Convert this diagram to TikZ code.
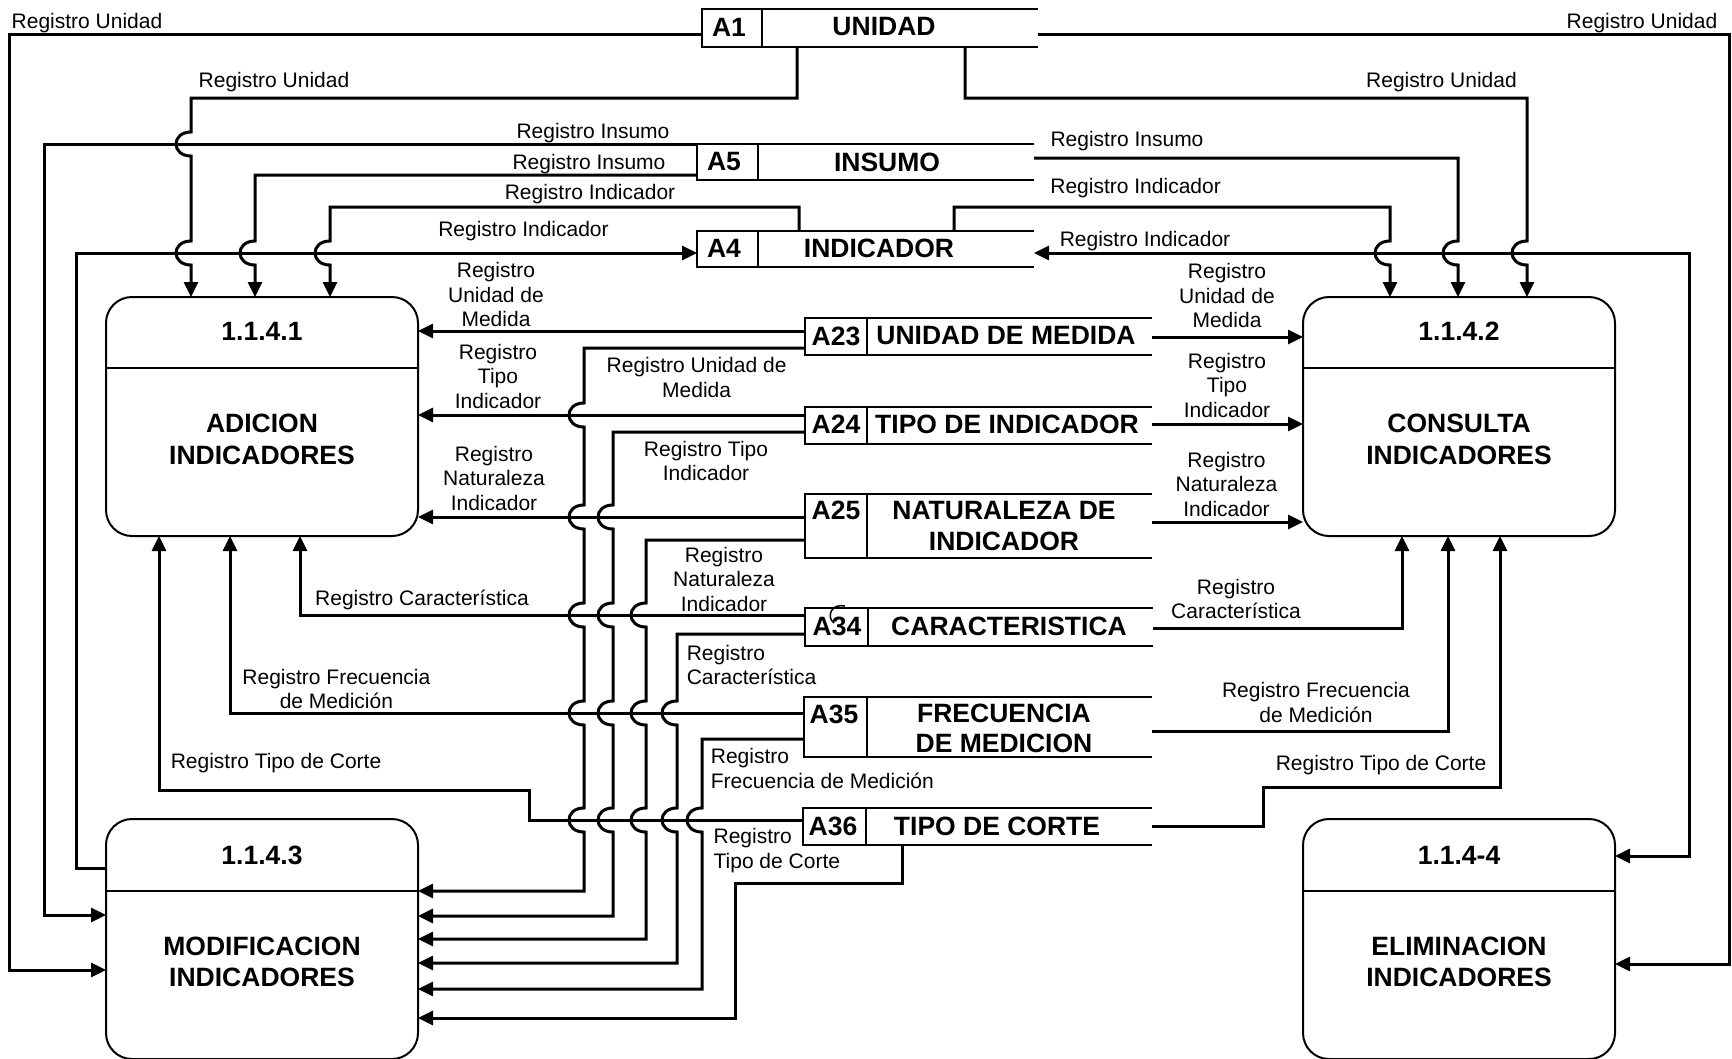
\documentclass[tikz,border=0pt]{standalone}
\usepackage{fontspec}
\setmainfont{Liberation Sans}
\usetikzlibrary{arrows.meta}
\newcommand\hopv[2]{-- (#1,#2-12) .. controls (#1-20,#2-12) and (#1-20,#2+12) .. (#1,#2+12)}
\newcommand\dstore[6]{%
  \node[storebox, minimum width={#4-#2}, minimum height={#5-#3}] (#1) at ({(#2+#4)/2},{(#3+#5)/2}) {};
  \draw[sline] (#1.north east) -- (#1.north west) -- (#1.south west) -- (#1.south east);
  \draw[sline] (#1.north -| #6,0) -- (#1.south -| #6,0);
}
\begin{document}
\begin{tikzpicture}[x=1pt,y=-1pt,
  flow/.style={line width=3pt, -{Triangle[length=15pt,width=14pt]}},
  flowboth/.style={line width=3pt, {Triangle[length=15pt,width=14pt]}-{Triangle[length=15pt,width=14pt]}},
  proc/.style={draw, line width=2pt, rounded corners=26pt, inner sep=0pt, outer sep=0pt, minimum width=312pt},
  storebox/.style={inner sep=0pt, outer sep=0pt},
  sline/.style={line width=2.5pt},
  lbl/.style={font=\fontsize{21}{24.5}\selectfont, align=center, inner sep=0pt},
  ttl/.style={font=\fontsize{26.5}{31}\selectfont\bfseries, align=center, inner sep=0pt},
]
\useasboundingbox (0,0) rectangle (1732,1058);

% ---------- data stores ----------
\dstore{A1}{702}{9}{1038}{47}{762}
\dstore{A5}{697}{144}{1034}{180}{758}
\dstore{A4}{697}{231}{1034}{267}{758}
\dstore{A23}{805}{318}{1152}{355}{867}
\dstore{A24}{805}{407}{1152}{444}{867}
\dstore{A25}{805}{494}{1152}{558}{867}
\dstore{A34}{805}{608}{1153}{646}{868}
\dstore{A35}{804}{697}{1152}{757}{867}
\dstore{A36}{803}{808}{1152}{845}{866}

\node[ttl] (A1id) at (729,27) {A1};
\node[ttl] (A1nm) at (884,27) {UNIDAD};
\node[ttl] (A5id) at (724,162) {A5};
\node[ttl] (A5nm) at (887,162) {INSUMO};
\node[ttl] (A4id) at (724,248) {A4};
\node[ttl] (A4nm) at (879,248) {INDICADOR};
\node[ttl] (A23id) at (836,336) {A23};
\node[ttl] (A23nm) at (1006,336) {UNIDAD DE MEDIDA};
\node[ttl] (A24id) at (836,424) {A24};
\node[ttl] (A24nm) at (1007,424) {TIPO DE INDICADOR};
\node[ttl] (A25id) at (836,510) {A25};
\node[ttl] (A25nm) at (1004,526) {NATURALEZA DE\\INDICADOR};
\node[ttl] (A34id) at (837,626) {A34};
\node[ttl] (A34nm) at (1009,626) {CARACTERISTICA};
\node[ttl] (A35id) at (834,714) {A35};
\node[ttl, font=\fontsize{26.5}{29.5}\selectfont\bfseries] (A35nm) at (1004,728.5) {FRECUENCIA\\DE MEDICION};
\node[ttl] (A36id) at (833,826) {A36};
\node[ttl] (A36nm) at (997,826) {TIPO DE CORTE};
% stray hook mark on A34
\draw[line width=1.5pt] (845,606) .. controls (831,603) and (826,617) .. (834,623);

% ---------- processes ----------
\node[proc, minimum height=239pt] (p1) at (262,416.5) {};
\node[proc, minimum height=239pt] (p2) at (1459,416.5) {};
\node[proc, minimum height=240pt] (p3) at (262,939) {};
\node[proc, minimum height=240pt] (p4) at (1459,939) {};
\draw[line width=2pt] (p1.west |- 0,368) -- (p1.east |- 0,368);
\draw[line width=2pt] (p2.west |- 0,368) -- (p2.east |- 0,368);
\draw[line width=2pt] (p3.west |- 0,891) -- (p3.east |- 0,891);
\draw[line width=2pt] (p4.west |- 0,891) -- (p4.east |- 0,891);
\node[ttl] (p1n) at (262,331) {1.1.4.1};
\node[ttl, font=\fontsize{26.5}{32}\selectfont\bfseries] (p1t) at (262,439) {ADICION\\INDICADORES};
\node[ttl] (p2n) at (1459,331) {1.1.4.2};
\node[ttl, font=\fontsize{26.5}{32}\selectfont\bfseries] (p2t) at (1459,439) {CONSULTA\\INDICADORES};
\node[ttl] (p3n) at (262,855) {1.1.4.3};
\node[ttl, font=\fontsize{26.5}{31}\selectfont\bfseries] (p3t) at (262,962) {MODIFICACION\\INDICADORES};
\node[ttl] (p4n) at (1459,855) {1.1.4-4};
\node[ttl, font=\fontsize{26.5}{31}\selectfont\bfseries] (p4t) at (1459,962) {ELIMINACION\\INDICADORES};

% ---------- connectors: top area ----------
\draw[flow] (A1.west |- 0,34) -- (9,34) -- (9,970) -- (p3.west |- 0,970);
\draw[flow] (A1.east |- 0,34) -- (1729,34) -- (1729,964) -- (p4.east |- 0,964);
\draw[flow] (A1.south -| 797,0) -- (797,98) -- (191,98) \hopv{191}{144} \hopv{191}{253} -- (p1.north -| 191,0);
\draw[flow] (A1.south -| 965,0) -- (965,98) -- (1527,98) \hopv{1527}{253} -- (p2.north -| 1527,0);
\draw[flow] (A5.west |- 0,144) -- (44,144) -- (44,915) -- (p3.west |- 0,915);
\draw[flow] (A5.west |- 0,175) -- (255,175) \hopv{255}{253} -- (p1.north -| 255,0);
\draw[flow] (A5.east |- 0,158) -- (1458,158) \hopv{1458}{253} -- (p2.north -| 1458,0);
\draw[flow] (A4.north -| 799,0) -- (799,207) -- (330,207) \hopv{330}{253} -- (p1.north -| 330,0);
\draw[flow] (A4.north -| 954,0) -- (954,207) -- (1390,207) \hopv{1390}{253} -- (p2.north -| 1390,0);
\draw[flow] (p3.west |- 0,868) -- (76,868) -- (76,253) -- (A4.west |- 0,253);
\draw[flowboth] (A4.east |- 0,253) -- (1689,253) -- (1689,856) -- (p4.east |- 0,856);

% ---------- connectors: stores to ADICION ----------
\draw[flow] (A23.west |- 0,331) -- (p1.east |- 0,331);
\draw[flow] (A24.west |- 0,415) -- (p1.east |- 0,415);
\draw[flow] (A25.west |- 0,517) -- (p1.east |- 0,517);
\draw[flow] (A34.west |- 0,615) -- (300,615) -- (p1.south -| 300,0);
\draw[flow] (A35.west |- 0,713) -- (230,713) -- (p1.south -| 230,0);
\draw[flow] (A36.west |- 0,820) -- (529,820) -- (529,790) -- (159,790) -- (p1.south -| 159,0);

% ---------- connectors: stores to MODIFICACION ----------
\draw[flow] (A23.west |- 0,348) -- (584,348) \hopv{584}{415} \hopv{584}{517} \hopv{584}{615} \hopv{584}{713} \hopv{584}{820} -- (584,891) -- (p3.east |- 0,891);
\draw[flow] (A24.west |- 0,432) -- (613,432) \hopv{613}{517} \hopv{613}{615} \hopv{613}{713} \hopv{613}{820} -- (613,916) -- (p3.east |- 0,916);
\draw[flow] (A25.west |- 0,540) -- (646,540) \hopv{646}{615} \hopv{646}{713} \hopv{646}{820} -- (646,939) -- (p3.east |- 0,939);
\draw[flow] (A34.west |- 0,634) -- (677,634) \hopv{677}{713} \hopv{677}{820} -- (677,963) -- (p3.east |- 0,963);
\draw[flow] (A35.west |- 0,739) -- (702,739) \hopv{702}{820} -- (702,989) -- (p3.east |- 0,989);
\draw[flow] (A36.south -| 902,0) -- (902,883) -- (735,883) -- (735,1018) -- (p3.east |- 0,1018);

% ---------- connectors: stores to CONSULTA ----------
\draw[flow] (A23.east |- 0,337) -- (p2.west |- 0,337);
\draw[flow] (A24.east |- 0,424) -- (p2.west |- 0,424);
\draw[flow] (A25.east |- 0,522) -- (p2.west |- 0,522);
\draw[flow] (A34.east |- 0,628) -- (1402,628) -- (p2.south -| 1402,0);
\draw[flow] (A35.east |- 0,731) -- (1448,731) -- (p2.south -| 1448,0);
\draw[flow] (A36.east |- 0,826) -- (1263,826) -- (1263,787) -- (1500,787) -- (p2.south -| 1500,0);

% ---------- labels ----------
\node[lbl] (l1) at (87,23) {Registro Unidad};
\node[lbl] (l2) at (1642,23) {Registro Unidad};
\node[lbl] (l3) at (274,82) {Registro Unidad};
\node[lbl] (l4) at (1441.5,82) {Registro Unidad};
\node[lbl] (l5) at (593,133) {Registro Insumo};
\node[lbl] (l6) at (589,164) {Registro Insumo};
\node[lbl] (l7) at (590,194) {Registro Indicador};
\node[lbl] (l8) at (523.5,231) {Registro Indicador};
\node[lbl] (l9) at (1127,141) {Registro Insumo};
\node[lbl] (l10) at (1135.6,188.5) {Registro Indicador};
\node[lbl] (l11) at (1145,241.5) {Registro Indicador};
\node[lbl] (l12) at (496,294.5) {Registro\\Unidad de\\Medida};
\node[lbl] (l13) at (696.6,377.5) {Registro Unidad de\\Medida};
\node[lbl] (l14) at (1227,295.5) {Registro\\Unidad de\\Medida};
\node[lbl] (l15) at (498,376) {Registro\\Tipo\\Indicador};
\node[lbl] (l16) at (706,461) {Registro Tipo\\Indicador};
\node[lbl] (l17) at (1227,385) {Registro\\Tipo\\Indicador};
\node[lbl] (l18) at (494,478) {Registro\\Naturaleza\\Indicador};
\node[lbl] (l19) at (724,579) {Registro\\Naturaleza\\Indicador};
\node[lbl] (l20) at (1226.5,484) {Registro\\Naturaleza\\Indicador};
\node[lbl] (l21) at (422,600) {Registro Característica};
\node[lbl, align=left, anchor=west] (l22) at (686.6,665) {Registro\\Característica};
\node[lbl] (l23) at (1236,599) {Registro\\Característica};
\node[lbl] (l24) at (336.4,689) {Registro Frecuencia\\de Medición};
\node[lbl, align=left, anchor=west] (l25) at (710.7,768.7) {Registro\\Frecuencia de Medición};
\node[lbl] (l26) at (1316,702.5) {Registro Frecuencia\\de Medición};
\node[lbl] (l27) at (276,763) {Registro Tipo de Corte};
\node[lbl, align=left, anchor=west] (l28) at (713.4,850.5) {Registro\\Tipo de Corte};
\node[lbl] (l29) at (1381,765.5) {Registro Tipo de Corte};
\end{tikzpicture}
\end{document}
